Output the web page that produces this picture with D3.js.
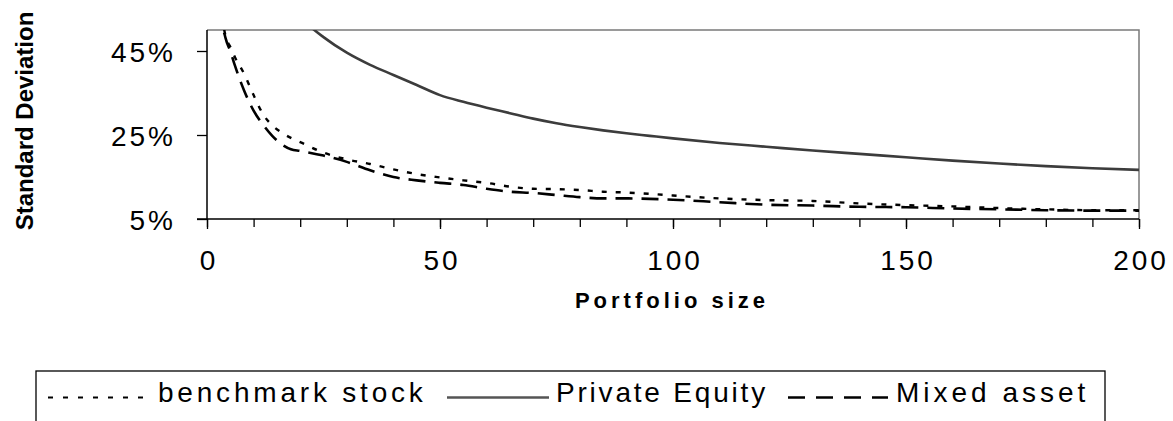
<!DOCTYPE html>
<html><head><meta charset="utf-8">
<script src="https://cdn.jsdelivr.net/npm/d3@7/dist/d3.min.js"></script>
<style>body{margin:0;background:#fff} svg{display:block}</style>
</head><body>
<svg id="chart" width="1173" height="421"></svg>
<script>
// ---- data ----
const portfolioSizes = [1, 2, 3, 4, 5, 6, 8, 10, 12, 14, 16, 18, 20, 25, 30, 35, 40, 45, 50, 55, 60, 65, 70, 75, 80, 85, 90, 95, 100, 110, 120, 130, 140, 150, 160, 170, 180, 190, 200];
const benchmarkStock = [110, 75, 56, 48.5, 46, 43.5, 39.5, 34.5, 30, 27.3, 25.6, 24.3, 23.3, 20.8, 19.2, 18.1, 16.8, 15.7, 14.9, 14.2, 13.6, 12.7, 12.2, 12.1, 11.9, 11.5, 11.3, 11.0, 10.6, 9.9, 9.5, 9.3, 8.7, 8.3, 8.0, 7.6, 7.3, 7.1, 7.1];
const privateEquity = [200, 150, 125, 110, 100, 92, 80, 72, 66, 61.5, 58, 55.5, 53, 48.3, 44.6, 41.7, 39.3, 36.9, 34.5, 32.9, 31.5, 30.2, 28.9, 27.8, 26.9, 26.1, 25.4, 24.8, 24.2, 23.1, 22.2, 21.3, 20.5, 19.7, 18.9, 18.2, 17.6, 17.1, 16.7];
const mixedAsset = [105, 70, 54, 48, 45, 41.5, 35.5, 30.8, 27.5, 24.8, 22.8, 21.6, 21.2, 20.1, 18.6, 16.6, 15.0, 14.2, 13.6, 13.1, 12.2, 11.5, 11.2, 10.7, 10.2, 9.9, 9.9, 9.8, 9.6, 9.0, 8.4, 8.2, 7.9, 7.8, 7.5, 7.3, 7.1, 7.0, 7.0];
const seriesNames = ["benchmark stock", "Private Equity", "Mixed asset"];
const xTickValues = [0, 50, 100, 150, 200];
const xMinorTickValues = d3.range(0, 201, 10);
const yTickValues = [5, 25, 45];
const xDomain = [0, 200];
const yDomain = [5, 50];

// ---- layout ----
const FONT = "'Liberation Sans', Arial, Helvetica, sans-serif";
const plot = {left: 207, right: 1139, top: 30, bottom: 219};
const svg = d3.select("#chart");

const x = d3.scaleLinear().domain(xDomain).range([plot.left, plot.right]);
const y = d3.scaleLinear().domain(yDomain).range([plot.bottom, plot.top]);

// plot frame (top & right, gray)
svg.append("path")
  .attr("d", `M${plot.left},${plot.top}H${plot.right}V${plot.bottom}`)
  .attr("fill", "none").attr("stroke", "#7a7a7a").attr("stroke-width", 1.5);

// clip
svg.append("clipPath").attr("id", "clip").append("rect")
  .attr("x", plot.left).attr("y", plot.top)
  .attr("width", plot.right - plot.left).attr("height", plot.bottom - plot.top);

// series
const styles = [
  {values: benchmarkStock, color: "#000", width: 2.4, dash: "5,9"},
  {values: privateEquity, color: "#3c3c3c", width: 2.6, dash: null},
  {values: mixedAsset, color: "#000", width: 2.6, dash: "17,9"}
];
const line = d3.line().x(d => x(d[0])).y(d => y(d[1])).curve(d3.curveMonotoneX);
const gSeries = svg.append("g").attr("clip-path", "url(#clip)");
styles.forEach(s => {
  gSeries.append("path")
    .datum(portfolioSizes.map((p, i) => [p, s.values[i]]))
    .attr("d", line)
    .attr("fill", "none")
    .attr("stroke", s.color)
    .attr("stroke-width", s.width)
    .attr("stroke-dasharray", s.dash);
});

// x axis
const xAxisMinor = d3.axisBottom(x).tickValues(xMinorTickValues).tickSize(8).tickFormat("");
svg.append("g").attr("transform", `translate(0,${plot.bottom})`).call(xAxisMinor)
  .call(g => g.select(".domain").remove())
  .call(g => g.selectAll("line").attr("stroke", "#000").attr("stroke-width", 1.3));
const xAxis = d3.axisBottom(x).tickValues(xTickValues).tickSize(10).tickPadding(0);
const gx = svg.append("g").attr("transform", `translate(0,${plot.bottom})`).call(xAxis);
gx.select(".domain").remove();
gx.selectAll("line").attr("stroke", "#000").attr("stroke-width", 1.3);
gx.selectAll("text")
  .attr("y", 51).attr("dy", 0).attr("dx", 1.5)
  .attr("fill", "#000")
  .style("font-family", FONT).style("font-size", "28px").style("letter-spacing", "3px");

// y axis
const yAxis = d3.axisLeft(y).tickValues(yTickValues).tickSize(10).tickPadding(0).tickFormat(d => d + "%");
const gy = svg.append("g").attr("transform", `translate(${plot.left},0)`).call(yAxis);
gy.select(".domain").remove();
gy.selectAll("line").attr("stroke", "#000").attr("stroke-width", 1.3);
gy.selectAll("text")
  .attr("x", -31).attr("dy", 10)
  .attr("fill", "#000")
  .style("font-family", FONT).style("font-size", "28px").style("letter-spacing", "3px");

// axis lines (black, left & bottom)
svg.append("path")
  .attr("d", `M${plot.left},${plot.top}V${plot.bottom}H${plot.right}`)
  .attr("fill", "none").attr("stroke", "#000").attr("stroke-width", 1.5);
svg.append("line")
  .attr("x1", plot.left - 10).attr("x2", plot.left)
  .attr("y1", plot.bottom).attr("y2", plot.bottom)
  .attr("stroke", "#000").attr("stroke-width", 1.5);

// axis titles
svg.append("text")
  .attr("transform", `translate(33,${(10 + 232) / 2}) rotate(-90)`)
  .attr("text-anchor", "middle")
  .style("font-family", FONT).style("font-size", "24px").style("font-weight", "bold")
  .text("Standard Deviation");
svg.append("text")
  .attr("x", 672).attr("y", 308)
  .attr("text-anchor", "middle")
  .style("font-family", FONT).style("font-size", "22px").style("font-weight", "bold")
  .style("letter-spacing", "4px")
  .text("Portfolio size");

// legend
const legend = svg.append("g");
legend.append("rect")
  .attr("x", 36).attr("y", 371).attr("width", 1105 - 36).attr("height", 80)
  .attr("fill", "#fff").attr("stroke", "#000").attr("stroke-width", 1.3);
const legendItems = [
  {x1: 48, x2: 150, tx: 158, dash: "5,10", color: "#000", width: 2.2},
  {x1: 447, x2: 549, tx: 556, dash: null, color: "#555", width: 2.4},
  {x1: 788, x2: 888, tx: 896, dash: "17,11", color: "#000", width: 2.6}
];
const legendSpacing = ["3.8px", "2.8px", "4px"];
legendItems.forEach((it, i) => {
  legend.append("line")
    .attr("x1", it.x1).attr("x2", it.x2).attr("y1", 397.5).attr("y2", 397.5)
    .attr("stroke", it.color).attr("stroke-width", it.width)
    .attr("stroke-dasharray", it.dash);
  legend.append("text")
    .attr("x", it.tx).attr("y", 402)
    .style("font-family", FONT).style("font-size", "28px").style("letter-spacing", legendSpacing[i])
    .text(seriesNames[i]);
});
</script>
</body></html>
